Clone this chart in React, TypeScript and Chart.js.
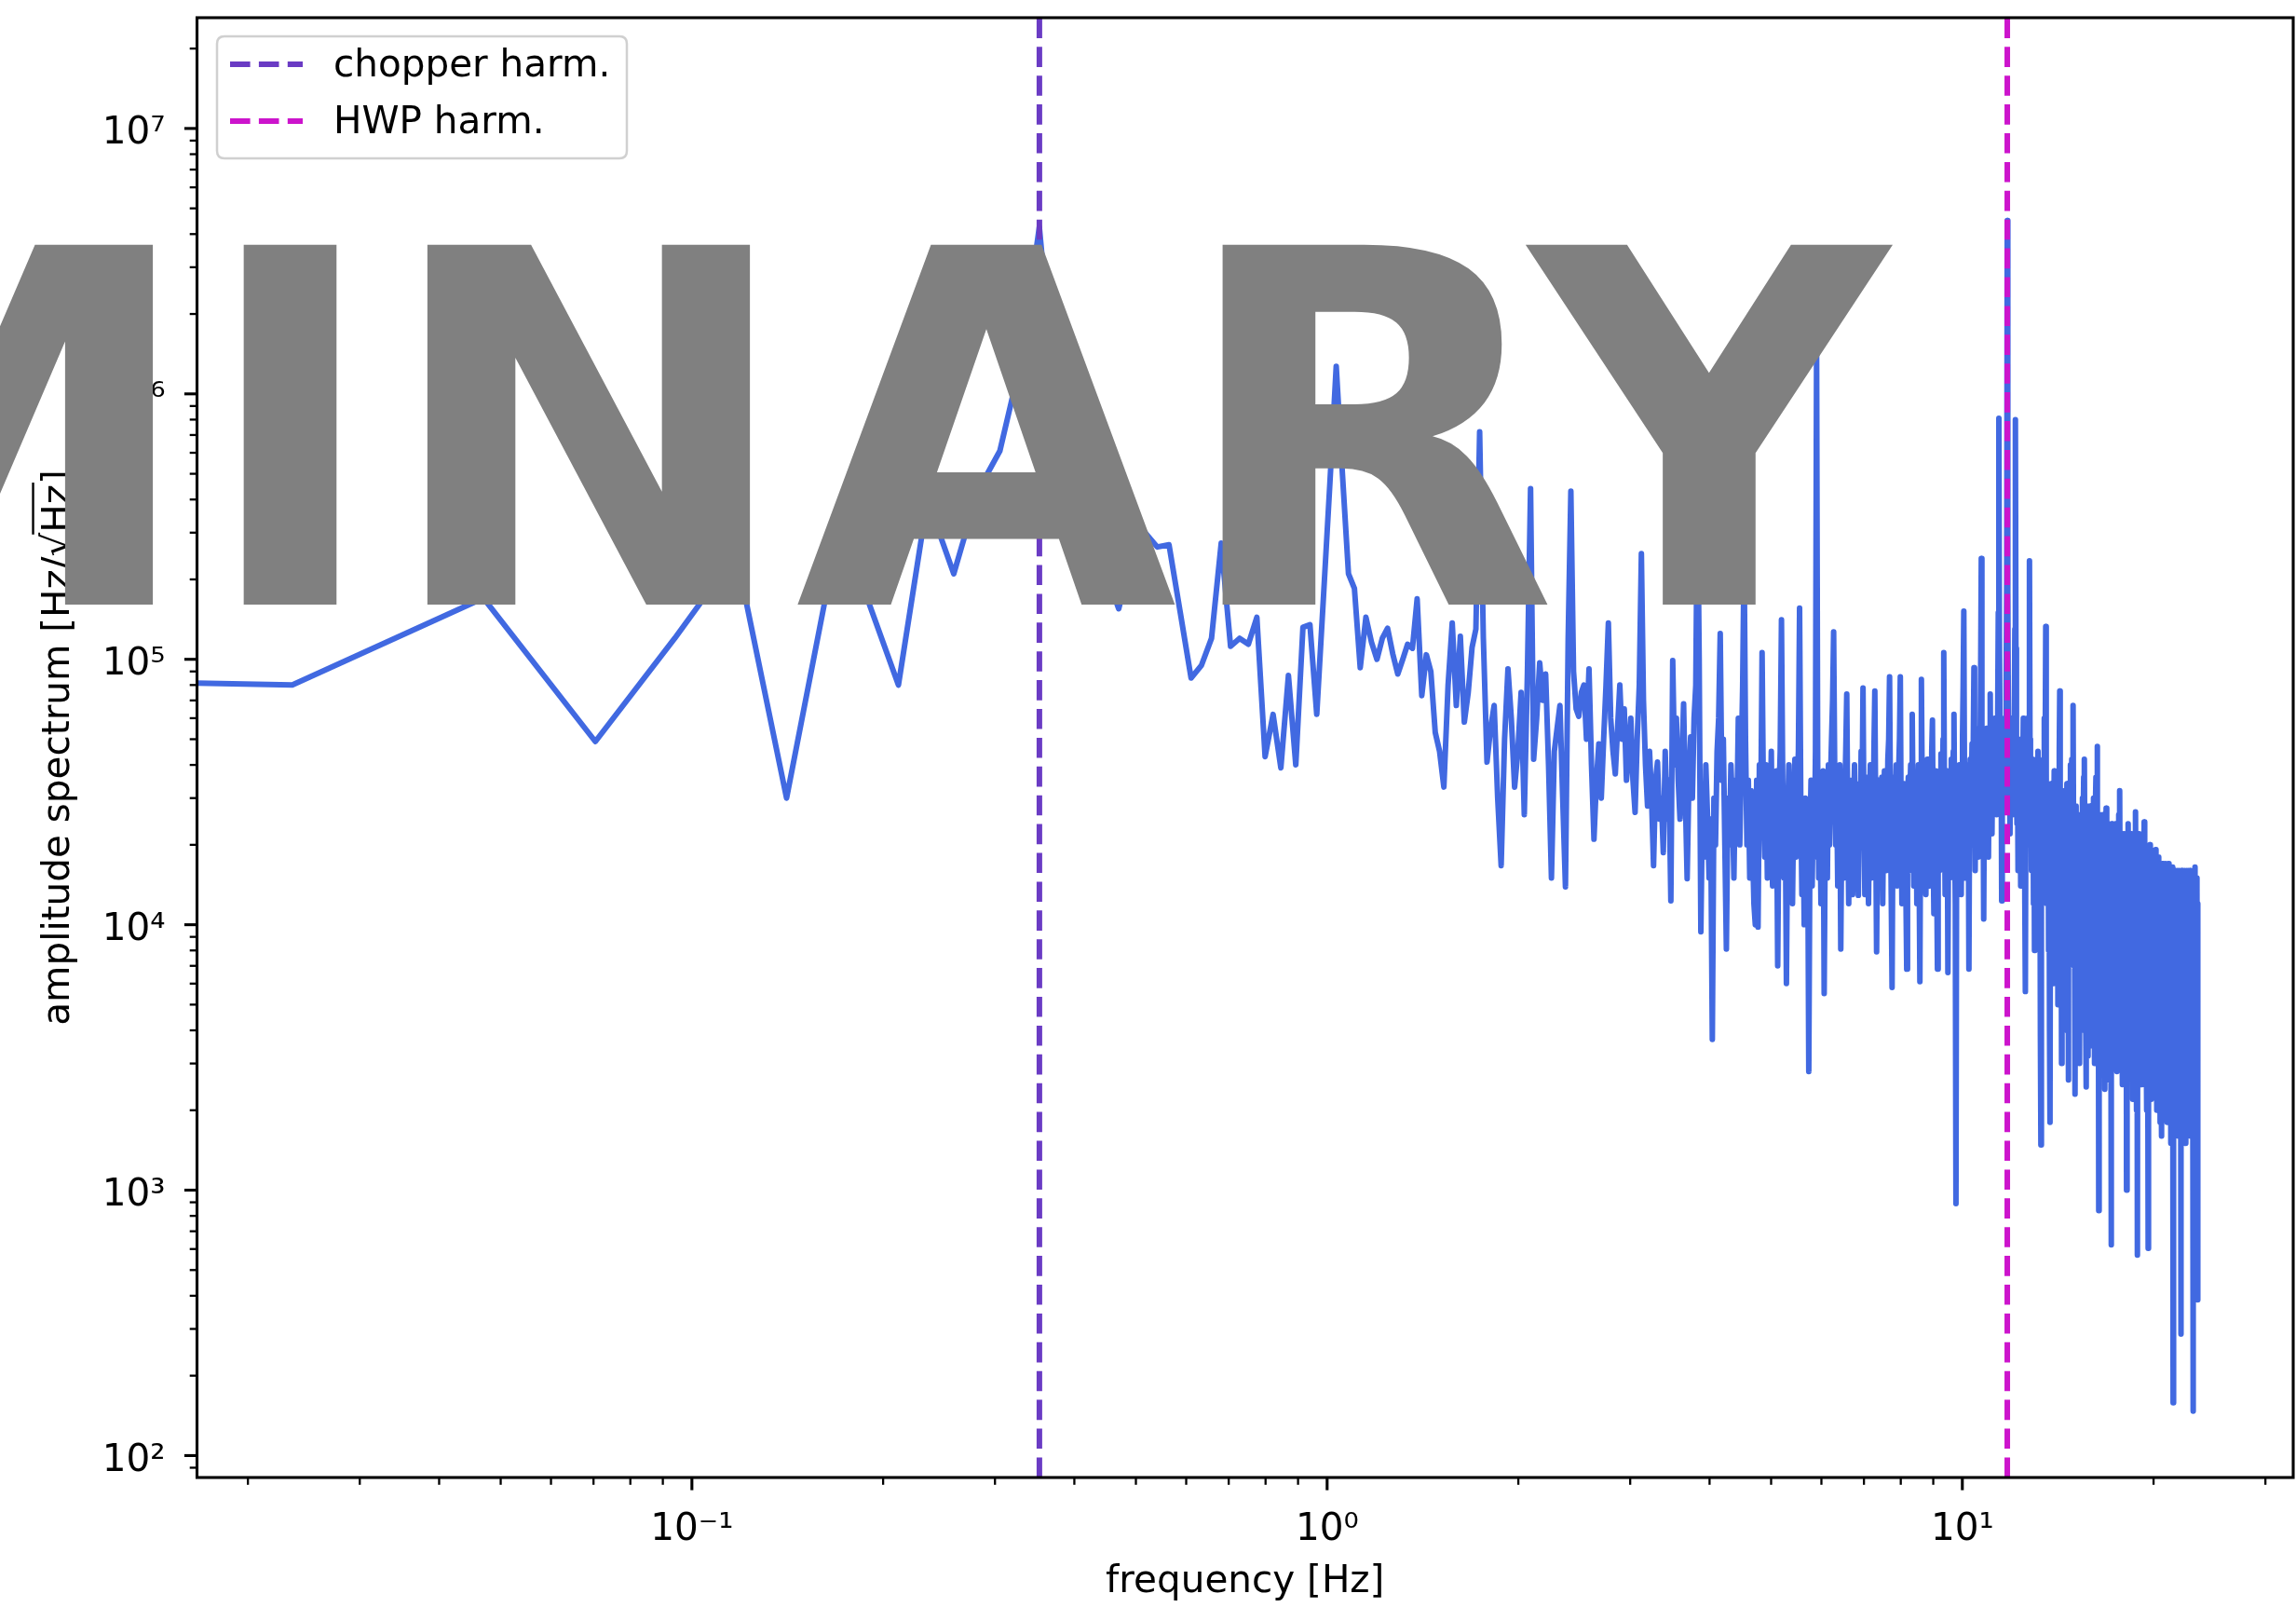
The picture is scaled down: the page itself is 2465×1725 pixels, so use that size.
import React, { useEffect, useRef } from "react";
import { Chart, registerables } from "chart.js";

Chart.register(...registerables);

// ---------------- data ----------------
// FFT bin spacing; bin k sits at k * FREQ_STEP_HZ (k = 0 is the DC bin)
const FREQ_STEP_HZ = 0.02349;

// amplitude spectrum [Hz/sqrt(Hz)] per bin
const AMPLITUDE: number[] = [
  1.47e7,
  8.0e4, 1.7e5, 4.9e4, 1.2e5, 2.5e5, 3.0e4, 2.0e5, 1.75e5, 8.0e4, 4.0e5, 2.1e5, 4.3e5, 6.1e5, 1.3e6, 4.25e6, 8.0e5, 4.0e5, 3.0e5, 2.2e5, 1.55e5,
  2.5e5, 3.0e5, 2.65e5, 2.7e5, 1.5e5, 8.5e4, 9.5e4, 1.2e5, 2.74e5, 1.12e5, 1.2e5, 1.14e5, 1.44e5, 4.3e4, 6.2e4, 3.9e4, 8.7e4, 4.0e4, 1.32e5, 1.35e5,
  6.2e4, 1.7e5, 4.6e5, 1.27e6, 5.0e5, 2.1e5, 1.85e5, 9.3e4, 1.44e5, 1.16e5, 1.0e5, 1.2e5, 1.31e5, 1.05e5, 8.8e4, 1.0e5, 1.14e5, 1.1e5, 1.69e5, 7.3e4,
  1.04e5, 9.0e4, 5.3e4, 4.5e4, 3.3e4, 8.0e4, 1.37e5, 6.7e4, 1.22e5, 5.8e4, 7.5e4, 1.11e5, 1.3e5, 7.2e5, 1.2e5, 4.1e4, 5.5e4, 6.7e4, 3.0e4, 1.67e4,
  5.0e4, 9.2e4, 6.0e4, 3.3e4, 4.5e4, 7.5e4, 2.6e4, 9.0e4, 4.4e5, 4.2e4, 6.0e4, 9.7e4, 7.0e4, 8.8e4, 4.0e4, 1.5e4, 4.5e4, 5.5e4, 6.7e4, 3.0e4,
  1.39e4, 1.2e5, 4.3e5, 9.0e4, 6.5e4, 6.1e4, 7.5e4, 8.0e4, 5.0e4, 9.2e4, 4.0e4, 2.1e4, 3.5e4, 4.8e4, 3.0e4, 5.0e4, 8.0e4, 1.37e5, 6.0e4, 4.5e4,
  3.7e4, 5.5e4, 8.0e4, 5.0e4, 6.5e4, 3.5e4, 4.4e4, 6.0e4, 3.5e4, 2.65e4, 5.0e4, 8.0e4, 2.5e5, 7.0e4, 4.0e4, 2.8e4, 4.5e4, 3.0e4, 1.67e4, 3.5e4,
  4.1e4, 2.5e4, 3.0e4, 1.87e4, 4.5e4, 2.5e4, 3.5e4, 1.23e4, 9.9e4, 4.0e4, 6.0e4, 3.5e4, 2.5e4, 4.0e4, 6.8e4, 3.0e4, 1.49e4, 3.5e4, 5.1e4, 3.0e4,
  6.0e4, 8.0e4, 4.6e5, 1.0e5, 9.4e3, 3.0e4, 1.8e4, 4.0e4, 2.6e4, 1.5e4, 2.5e4, 3.7e3, 3.0e4, 2.0e4, 4.5e4, 6.0e4, 1.25e5, 3.5e4, 5.0e4, 2.0e4,
  8.1e3, 3.0e4, 2.0e4, 4.0e4, 2.8e4, 1.5e4, 3.5e4, 2.5e4, 6.0e4, 2.0e4, 4.0e4, 8.0e4, 2.5e5, 5.0e4, 2.0e4, 3.5e4, 1.5e4, 3.2e4, 2.0e4, 1.2e4,
  1.0e4, 3.5e4, 9.8e3, 4.0e4, 2.5e4, 1.06e5, 3.0e4, 1.8e4, 4.0e4, 1.5e4, 3.5e4, 2.2e4, 4.5e4, 1.4e4, 3.0e4, 2.0e4, 3.8e4, 7.0e3, 3.0e4, 4.5e4,
  1.41e5, 3.5e4, 1.5e4, 3.0e4, 6.0e3, 2.5e4, 4.0e4, 1.6e4, 3.2e4, 1.2e4, 2.8e4, 4.2e4, 1.8e4, 3.5e4, 4.5e4, 1.56e5, 3.0e4, 1.3e4, 2.5e4, 1.0e4,
  3.0e4, 1.5e4, 2.5e4, 2.8e3, 2.0e4, 3.5e4, 1.4e4, 2.8e4, 1.8e4, 4.5e4, 1.5e6, 4.0e4, 1.5e4, 3.0e4, 1.2e4, 2.5e4, 3.8e4, 5.5e3, 2.2e4, 3.5e4,
  1.5e4, 4.0e4, 2.0e4, 3.5e4, 5.0e4, 7.0e4, 1.27e5, 4.0e4, 2.0e4, 3.2e4, 1.4e4, 2.8e4, 4.0e4, 8.1e3, 2.5e4, 3.6e4, 1.5e4, 3.0e4, 4.5e4, 7.4e4,
  2.5e4, 1.2e4, 3.0e4, 1.8e4, 3.5e4, 1.3e4, 2.6e4, 4.0e4, 1.6e4, 3.0e4, 2.0e4, 1.29e4, 3.4e4, 2.2e4, 4.5e4, 3.0e4, 7.8e4, 2.5e4, 1.3e4, 3.0e4,
  1.8e4, 3.6e4, 1.2e4, 2.8e4, 4.0e4, 1.5e4, 3.0e4, 2.0e4, 4.5e4, 7.6e4, 2.5e4, 7.9e3, 2.4e4, 3.5e4, 1.4e4, 2.8e4, 1.9e4, 3.6e4, 1.2e4, 2.6e4,
  3.8e4, 1.6e4, 3.0e4, 2.2e4, 4.2e4, 5.0e4, 8.6e4, 3.0e4, 1.3e4, 5.8e3, 2.5e4, 3.6e4, 1.5e4, 2.9e4, 4.0e4, 1.4e4, 2.6e4, 3.8e4, 5.0e4, 8.6e4,
  2.4e4, 1.2e4, 3.0e4, 1.8e4, 3.4e4, 2.2e4, 1.3e4, 6.8e3, 2.6e4, 3.6e4, 1.6e4, 3.0e4, 4.0e4, 2.0e4, 6.2e4, 2.8e4, 1.4e4, 3.2e4, 2.0e4, 3.6e4,
  1.2e4, 2.8e4, 4.0e4, 1.6e4, 6.1e3, 3.0e4, 8.4e4, 3.5e4, 1.5e4, 3.2e4, 2.2e4, 3.8e4, 1.3e4, 2.6e4, 4.2e4, 1.8e4, 3.0e4, 1.4e4, 3.6e4, 2.4e4,
  4.5e4, 5.9e4, 2.0e4, 1.1e4, 3.0e4, 2.2e4, 3.8e4, 1.5e4, 6.8e3, 2.8e4, 3.6e4, 1.6e4, 3.2e4, 4.4e4, 1.8e4, 3.0e4, 5.0e4, 1.06e5, 3.0e4, 1.3e4,
  3.2e4, 2.0e4, 3.8e4, 6.6e3, 2.6e4, 3.6e4, 1.5e4, 3.0e4, 4.2e4, 2.0e4, 3.4e4, 4.5e4, 6.2e4, 2.4e4, 1.2e4, 890, 2.2e4, 3.6e4, 1.6e4, 3.0e4,
  4.0e4, 1.8e4, 3.2e4, 1.3e4, 3.6e4, 5.0e4, 8.0e4, 1.52e5, 3.5e4, 1.5e4, 3.0e4, 2.2e4, 4.0e4, 1.6e4, 3.2e4, 6.8e3, 2.8e4, 4.2e4, 2.0e4, 3.4e4,
  4.8e4, 2.4e4, 5.0e4, 9.3e4, 3.5e4, 1.6e4, 3.6e4, 2.5e4, 4.5e4, 1.8e4, 3.8e4, 5.5e4, 2.6e4, 4.4e4, 9.0e4, 2.4e5, 4.5e4, 2.0e4, 3.6e4, 1.05e4,
  3.0e4, 4.6e4, 2.2e4, 3.8e4, 5.5e4, 2.6e4, 4.2e4, 1.8e4, 3.6e4, 5.0e4, 7.4e4, 3.0e4, 4.8e4, 2.2e4, 4.0e4, 5.8e4, 2.8e4, 4.5e4, 6.0e4, 3.2e4,
  5.0e4, 2.6e4, 4.4e4, 6.5e4, 1.5e5, 8.1e5, 1.2e5, 5.0e4, 3.0e4, 4.5e4, 1.23e4, 3.5e4, 5.2e4, 2.8e4, 4.6e4, 6.0e4, 3.4e4, 5.5e4, 8.0e4, 2.0e5,
  4.5e6, 1.8e5, 6.0e4, 3.0e4, 5.0e4, 2.2e4, 4.5e4, 6.0e4, 3.0e4, 5.2e4, 2.6e4, 4.8e4, 3.4e4, 6.0e4, 1.3e5, 8.0e5, 1.1e5, 4.2e4, 2.4e4, 4.0e4,
  1.6e4, 3.6e4, 5.0e4, 2.2e4, 4.2e4, 1.4e4, 3.4e4, 5.0e4, 2.0e4, 3.8e4, 6.0e4, 2.4e4, 4.0e4, 1.2e4, 5.6e3, 3.0e4, 4.8e4, 2.2e4, 6.0e4, 4.0e4,
  2.0e4, 6.0e4, 2.35e5, 5.0e4, 2.6e4, 4.0e4, 1.6e4, 3.4e4, 2.2e4, 4.2e4, 1.2e4, 3.0e4, 8.0e3, 2.6e4, 4.0e4, 1.8e4, 3.2e4, 1.0e4, 2.8e4, 4.5e4,
  1.6e4, 3.0e4, 1.2e4, 2.6e4, 3.8e3, 1.48e3, 2.2e4, 3.5e4, 1.4e4, 2.8e4, 4.2e4, 2.0e4, 6.0e4, 3.0e4, 5.0e4, 1.33e5, 3.8e4, 1.2e4, 2.6e4, 1.8e4,
  3.2e4, 8.0e3, 2.4e4, 4.0e3, 1.8e3, 2.2e4, 3.4e4, 1.0e4, 2.6e4, 1.5e4, 3.2e4, 6.0e3, 2.4e4, 3.8e4, 1.2e4, 2.8e4, 7.0e3, 2.2e4, 3.4e4, 1.4e4,
  2.6e4, 5.0e3, 2.0e4, 3.2e4, 4.5e4, 7.6e4, 2.4e4, 8.0e3, 2.2e4, 3.0e3, 1.8e4, 2.8e4, 9.0e3, 2.4e4, 4.0e3, 2.0e4, 3.2e4, 1.0e4, 2.6e4, 6.0e3,
  2.2e4, 3.4e4, 1.2e4, 2.4e4, 2.6e3, 2.0e4, 3.0e4, 8.0e3, 2.6e4, 4.0e4, 1.4e4, 2.8e4, 4.2e4, 2.0e4, 3.6e4, 6.7e4, 2.4e4, 7.0e3, 2.0e4, 3.0e3,
  2.3e3, 1.8e4, 2.8e4, 9.0e3, 2.2e4, 5.0e3, 1.8e4, 2.6e4, 8.0e3, 2.2e4, 3.0e3, 1.6e4, 2.6e4, 1.0e4, 2.4e4, 4.0e3, 2.0e4, 3.0e4, 1.2e4, 2.6e4,
  3.6e4, 2.2e4, 4.2e4, 1.4e4, 2.6e4, 4.0e3, 2.45e3, 2.0e4, 2.8e4, 8.0e3, 2.2e4, 3.2e3, 1.8e4, 2.6e4, 6.0e3, 2.0e4, 2.8e4, 9.0e3, 2.2e4, 3.5e3,
  1.8e4, 2.6e4, 7.0e3, 2.2e4, 3.0e4, 1.2e4, 2.4e4, 3.0e3, 1.8e4, 3.0e4, 3.6e4, 1.6e4, 2.8e4, 4.7e4, 2.0e4, 6.0e3, 1.6e4, 838, 2.0e4, 2.6e4,
  8.0e3, 2.0e4, 3.0e3, 1.6e4, 2.4e4, 6.0e3, 2.0e4, 2.6e4, 4.0e3, 1.8e4, 2.4e4, 7.0e3, 2.0e4, 2.4e3, 1.6e4, 2.2e4, 2.75e4, 1.2e4, 2.0e4, 4.0e3,
  1.8e4, 2.4e4, 6.0e3, 1.8e4, 2.6e3, 1.5e4, 2.2e4, 5.0e3, 1.6e4, 622, 1.8e4, 2.4e4, 6.0e3, 2.0e4, 3.0e3, 1.6e4, 2.2e4, 8.0e3, 1.8e4, 3.5e3,
  1.6e4, 2.4e4, 7.0e3, 1.8e4, 2.8e3, 1.5e4, 2.2e4, 6.0e3, 2.0e4, 2.6e4, 1.2e4, 2.4e4, 3.2e4, 1.4e4, 2.0e4, 4.0e3, 1.6e4, 2.2e4, 6.0e3, 1.8e4,
  2.5e3, 1.4e4, 2.0e4, 5.0e3, 1.6e4, 2.2e4, 7.0e3, 1.8e4, 3.0e3, 1.5e4, 2.0e4, 1.0e3, 1.6e4, 2.2e4, 5.0e3, 1.8e4, 2.4e4, 8.0e3, 1.6e4, 3.0e3,
  1.4e4, 2.0e4, 6.0e3, 1.6e4, 2.2e4, 4.0e3, 1.5e4, 2.0e4, 2.2e3, 1.4e4, 2.0e4, 7.0e3, 1.6e4, 2.2e4, 3.5e3, 1.5e4, 2.0e4, 2.66e4, 1.0e4, 1.8e4,
  2.0e3, 1.4e4, 569, 1.5e4, 2.0e4, 5.0e3, 1.6e4, 2.2e4, 3.0e3, 1.4e4, 1.9e4, 6.0e3, 1.5e4, 2.0e4, 2.5e3, 1.4e4, 1.8e4, 5.0e3, 1.5e4, 2.0e4,
  8.0e3, 1.6e4, 2.44e4, 1.0e4, 1.6e4, 2.5e3, 1.4e4, 1.9e4, 4.0e3, 1.5e4, 2.0e3, 1.3e4, 1.8e4, 5.0e3, 604, 1.4e4, 1.8e4, 3.0e3, 1.5e4, 2.0e4,
  6.0e3, 1.4e4, 1.8e4, 2.2e3, 1.3e4, 1.8e4, 5.0e3, 1.5e4, 1.9e4, 3.0e3, 1.4e4, 1.8e4, 6.0e3, 1.5e4, 2.5e3, 1.4e4, 1.8e4, 1.92e4, 8.0e3, 1.5e4,
  2.0e3, 1.3e4, 1.7e4, 4.0e3, 1.4e4, 1.8e4, 2.4e3, 1.3e4, 1.7e4, 5.0e3, 1.4e4, 1.8e3, 1.3e4, 1.7e4, 4.0e3, 1.4e4, 1.6e3, 1.3e4, 1.7e4, 3.0e3,
  1.4e4, 1.7e4, 2.0e3, 1.3e4, 1.6e4, 5.0e3, 1.4e4, 1.7e4, 2.2e3, 1.3e4, 1.6e4, 4.0e3, 1.4e4, 1.8e3, 1.3e4, 1.6e4, 3.0e3, 1.4e4, 1.7e4, 2.0e3,
  1.3e4, 1.6e4, 4.0e3, 1.4e4, 1.6e4, 1.5e3, 1.3e4, 1.6e4, 3.0e3, 1.4e4, 1.6e4, 2.0e3, 1.65e4, 158, 1.3e4, 1.6e4, 2.5e3, 1.4e4, 1.6e4, 1.8e3,
  1.3e4, 1.6e4, 3.0e3, 1.4e4, 1.5e4, 2.0e3, 1.3e4, 1.6e4, 3.5e3, 1.3e4, 1.5e4, 1.6e3, 1.3e4, 1.6e4, 2.5e3, 1.4e4, 1.5e4, 3.0e3, 1.3e4, 287,
  1.4e4, 1.6e4, 2.0e3, 1.3e4, 1.5e4, 2.6e3, 1.4e4, 1.6e4, 1.8e3, 1.3e4, 1.5e4, 3.0e3, 1.4e4, 1.6e4, 2.0e3, 1.3e4, 1.5e4, 1.5e3, 1.4e4, 1.6e4,
  2.4e3, 1.3e4, 1.5e4, 1.8e3, 1.4e4, 1.6e4, 2.8e3, 1.3e4, 1.5e4, 2.0e3, 1.4e4, 1.6e4, 1.6e3, 1.3e4, 1.5e4, 2.6e3, 1.4e4, 1.5e4, 2.0e3, 1.3e4,
  1.5e4, 1.8e3, 147, 1.4e4, 1.5e4, 2.2e3, 1.3e4, 1.5e4, 1.65e4, 2.0e3, 1.4e4, 1.5e4, 2.5e3, 1.3e4, 1.5e4, 1.8e3, 1.4e4, 386, 1.2e4, 2.5e3,
];

// harmonic markers [Hz]
const CHOPPER_HARM_HZ = [0.3524];
const HWP_HARM_HZ = [11.77];
const SERIES_LABELS = ["chopper harm.", "HWP harm."];

// tick values and labels
const X_MAJOR_TICKS = [0.1, 1, 10];
const X_MAJOR_LABELS = ["10⁻¹", "10⁰", "10¹"];
const X_MINOR_TICKS = [
  0.02, 0.03, 0.04, 0.05, 0.06, 0.07, 0.08, 0.09,
  0.2, 0.3, 0.4, 0.5, 0.6, 0.7, 0.8, 0.9,
  2, 3, 4, 5, 6, 7, 8, 9, 20, 30,
];
const Y_MAJOR_TICKS = [1e2, 1e3, 1e4, 1e5, 1e6, 1e7];
const Y_MAJOR_LABELS = ["10²", "10³", "10⁴", "10⁵", "10⁶", "10⁷"];
const Y_MINOR_TICKS = [
  90, 200, 300, 400, 500, 600, 700, 800, 900,
  2e3, 3e3, 4e3, 5e3, 6e3, 7e3, 8e3, 9e3,
  2e4, 3e4, 4e4, 5e4, 6e4, 7e4, 8e4, 9e4,
  2e5, 3e5, 4e5, 5e5, 6e5, 7e5, 8e5, 9e5,
  2e6, 3e6, 4e6, 5e6, 6e6, 7e6, 8e6, 9e6, 2e7,
];

const X_TITLE = "frequency [Hz]";
const Y_TITLE_PARTS = ["amplitude spectrum [Hz/", "√", "Hz", "]"];
const WATERMARK = "PRELIMINARY";

// ---------------- style / layout ----------------
const W = 2465;
const H = 1725;
const FONT = "'DejaVu Sans', 'Liberation Sans', sans-serif";
const FS = 40.5;
const PLOT_LEFT = 211.5;
const PLOT_TOP = 19;
const PLOT_RIGHT_PAD = 3;
const PLOT_BOTTOM = 1586;
const LINE_W = 6;
const DASH = [21.6, 9.3];
const SPECTRUM_COLOR = "#4169e1";
const CHOPPER_COLOR = "#6a3bc4";
const HWP_COLOR = "#cc14cc";
const WATERMARK_COLOR = "#808080";
const LOG_CLIP = 1e-300; // non-positive values on a log axis are clipped like matplotlib does

export default function App() {
  const ref = useRef<HTMLCanvasElement | null>(null);

  useEffect(() => {
    const canvas = ref.current;
    if (!canvas) return;

    const freq = AMPLITUDE.map((_, k) => k * FREQ_STEP_HZ);
    const posF = freq.filter((f) => f > 0);
    const lx0 = Math.log10(Math.min(...posF));
    const lx1 = Math.log10(Math.max(...posF));
    const ly0 = Math.log10(Math.min(...AMPLITUDE));
    const ly1 = Math.log10(Math.max(...AMPLITUDE));
    const mx = 0.05 * (lx1 - lx0);
    const my = 0.05 * (ly1 - ly0);
    const xMin = Math.pow(10, lx0 - mx);
    const xMax = Math.pow(10, lx1 + mx);
    const yMin = Math.pow(10, ly0 - my);
    const yMax = Math.pow(10, ly1 + my);

    const spectrum = freq.map((f, k) => ({ x: f > 0 ? f : LOG_CLIP, y: AMPLITUDE[k] }));
    const vlines = (fs: number[]) =>
      fs.flatMap((f, i) => {
        const seg = [{ x: f, y: yMin }, { x: f, y: yMax }];
        return i < fs.length - 1 ? [...seg, { x: f, y: NaN }] : seg;
      });

    const font = { family: FONT, size: FS };

    const majorOf = (majors: number[]) => (v: number) => majors.indexOf(v) >= 0;
    const isXMajor = majorOf(X_MAJOR_TICKS);
    const isYMajor = majorOf(Y_MAJOR_TICKS);

    const axesDecor = {
      id: "axesDecor",
      afterDatasetsDraw(chart: any) {
        const { ctx, chartArea: a, scales } = chart;
        ctx.save();
        ctx.strokeStyle = "#000";
        ctx.lineCap = "butt";
        for (const t of scales.x.ticks) {
          const p = scales.x.getPixelForValue(t.value);
          const len = t.major ? 13.6 : 7.8;
          ctx.lineWidth = t.major ? 3.1 : 2.3;
          ctx.beginPath();
          ctx.moveTo(p, a.bottom);
          ctx.lineTo(p, a.bottom + len);
          ctx.stroke();
        }
        for (const t of scales.y.ticks) {
          const p = scales.y.getPixelForValue(t.value);
          const len = t.major ? 13.6 : 7.8;
          ctx.lineWidth = t.major ? 3.1 : 2.3;
          ctx.beginPath();
          ctx.moveTo(a.left, p);
          ctx.lineTo(a.left - len, p);
          ctx.stroke();
        }
        ctx.lineWidth = 3.1;
        ctx.lineJoin = "miter";
        ctx.strokeRect(a.left, a.top, a.right - a.left, a.bottom - a.top);
        ctx.restore();
      },
    };

    const overlay = {
      id: "overlay",
      afterDraw(chart: any) {
        const { ctx, chartArea: a } = chart;

        // legend (upper left, inside axes)
        const items = chart.data.datasets.filter((d: any) => SERIES_LABELS.indexOf(d.label) >= 0);
        const lx = a.left + 21.5;
        const ly = a.top + 20;
        const rowH = 61;
        const boxW = 440;
        const boxH = 131;
        ctx.save();
        ctx.beginPath();
        const r = 8;
        ctx.moveTo(lx + r, ly);
        ctx.lineTo(lx + boxW - r, ly);
        ctx.quadraticCurveTo(lx + boxW, ly, lx + boxW, ly + r);
        ctx.lineTo(lx + boxW, ly + boxH - r);
        ctx.quadraticCurveTo(lx + boxW, ly + boxH, lx + boxW - r, ly + boxH);
        ctx.lineTo(lx + r, ly + boxH);
        ctx.quadraticCurveTo(lx, ly + boxH, lx, ly + boxH - r);
        ctx.lineTo(lx, ly + r);
        ctx.quadraticCurveTo(lx, ly, lx + r, ly);
        ctx.closePath();
        ctx.fillStyle = "rgba(255,255,255,0.8)";
        ctx.fill();
        ctx.strokeStyle = "#d0d0d0";
        ctx.lineWidth = 2.5;
        ctx.stroke();
        ctx.font = `${FS}px ${FONT}`;
        ctx.textBaseline = "alphabetic";
        ctx.textAlign = "left";
        items.forEach((d: any, i: number) => {
          const cy = ly + 30 + i * rowH;
          ctx.strokeStyle = d.borderColor;
          ctx.lineWidth = LINE_W;
          ctx.setLineDash(DASH);
          ctx.beginPath();
          ctx.moveTo(lx + 14, cy);
          ctx.lineTo(lx + 14 + 78, cy);
          ctx.stroke();
          ctx.setLineDash([]);
          ctx.fillStyle = "#000";
          ctx.fillText(d.label, lx + 125, cy + 13);
        });
        ctx.restore();

        // y axis title with a square root over "Hz"
        ctx.save();
        ctx.font = `${FS}px ${FONT}`;
        ctx.fillStyle = "#000";
        ctx.strokeStyle = "#000";
        ctx.textBaseline = "alphabetic";
        ctx.textAlign = "left";
        ctx.translate(74, (a.top + a.bottom) / 2);
        ctx.rotate(-Math.PI / 2);
        const widths = Y_TITLE_PARTS.map((p) => ctx.measureText(p).width);
        const total = widths.reduce((s, w) => s + w, 0);
        let x = -total / 2;
        let rootEnd = 0;
        let radEnd = 0;
        Y_TITLE_PARTS.forEach((p, i) => {
          ctx.fillText(p, x, 0);
          if (i === 1) rootEnd = x + widths[i];
          x += widths[i];
          if (i === 2) radEnd = x;
        });
        ctx.lineWidth = 2.4;
        ctx.beginPath();
        ctx.moveTo(rootEnd - 2, -FS * 0.95);
        ctx.lineTo(radEnd + 2, -FS * 0.95);
        ctx.stroke();
        ctx.restore();

        // watermark on top of everything
        ctx.save();
        ctx.font = `bold 530px ${FONT}`;
        ctx.fillStyle = WATERMARK_COLOR;
        ctx.textBaseline = "alphabetic";
        ctx.textAlign = "left";
        const pre = ctx.measureText(WATERMARK.slice(0, 6)).width;
        ctx.fillText(WATERMARK, 213 - pre, 649);
        ctx.restore();
      },
    };

    const chart = new Chart(canvas, {
      type: "line",
      data: {
        datasets: [
          {
            label: "spectrum",
            data: spectrum,
            borderColor: SPECTRUM_COLOR,
            borderWidth: LINE_W,
            borderJoinStyle: "round",
            borderCapStyle: "butt",
            pointRadius: 0,
            tension: 0,
            fill: false,
            order: 3,
          },
          {
            label: SERIES_LABELS[0],
            data: vlines(CHOPPER_HARM_HZ),
            borderColor: CHOPPER_COLOR,
            borderWidth: LINE_W,
            borderDash: DASH,
            borderCapStyle: "butt",
            pointRadius: 0,
            fill: false,
            order: 2,
          },
          {
            label: SERIES_LABELS[1],
            data: vlines(HWP_HARM_HZ),
            borderColor: HWP_COLOR,
            borderWidth: LINE_W,
            borderDash: DASH,
            borderCapStyle: "butt",
            pointRadius: 0,
            fill: false,
            order: 1,
          },
        ] as any,
      },
      options: {
        responsive: false,
        animation: false,
        devicePixelRatio: 1,
        parsing: false,
        events: [],
        layout: { padding: { top: PLOT_TOP, right: PLOT_RIGHT_PAD, left: 0, bottom: 0 } },
        plugins: { legend: { display: false }, tooltip: { enabled: false }, title: { display: false } },
        scales: {
          x: {
            type: "logarithmic",
            position: "bottom",
            min: xMin,
            max: xMax,
            grid: { display: false, drawTicks: true, tickLength: 14 },
            border: { display: false },
            afterBuildTicks: (scale: any) => {
              scale.ticks = [...X_MINOR_TICKS, ...X_MAJOR_TICKS]
                .sort((p, q) => p - q)
                .map((v) => ({ value: v, major: isXMajor(v) }));
            },
            afterFit: (scale: any) => {
              scale.height = H - PLOT_BOTTOM;
              scale.paddingLeft = 0;
              scale.paddingRight = 0;
              scale.paddingTop = 0;
              scale.paddingBottom = 0;
            },
            ticks: {
              autoSkip: false,
              maxRotation: 0,
              minRotation: 0,
              padding: 18.5,
              color: "#000",
              font,
              callback: (v: any) => {
                const i = X_MAJOR_TICKS.indexOf(Number(v));
                return i >= 0 ? X_MAJOR_LABELS[i] : "";
              },
            },
            title: {
              display: true,
              text: X_TITLE,
              color: "#000",
              font,
              padding: { top: 0, bottom: 2.5 },
            },
          },
          y: {
            type: "logarithmic",
            position: "left",
            min: yMin,
            max: yMax,
            grid: { display: false, drawTicks: true, tickLength: 14 },
            border: { display: false },
            afterBuildTicks: (scale: any) => {
              scale.ticks = [...Y_MINOR_TICKS, ...Y_MAJOR_TICKS]
                .sort((p, q) => p - q)
                .map((v) => ({ value: v, major: isYMajor(v) }));
            },
            afterFit: (scale: any) => {
              scale.width = PLOT_LEFT;
              scale.paddingLeft = 0;
              scale.paddingRight = 0;
              scale.paddingTop = 0;
              scale.paddingBottom = 0;
            },
            ticks: {
              autoSkip: false,
              padding: 20,
              labelOffset: 6,
              color: "#000",
              font,
              callback: (v: any) => {
                const i = Y_MAJOR_TICKS.indexOf(Number(v));
                return i >= 0 ? Y_MAJOR_LABELS[i] : "";
              },
            },
            title: { display: false },
          },
        },
      } as any,
      plugins: [axesDecor, overlay],
    });

    return () => chart.destroy();
  }, []);

  return (
    <div style={{ position: "fixed", left: 0, top: 0, width: W, height: H, background: "#fff" }}>
      <canvas ref={ref} width={W} height={H} style={{ display: "block", width: W, height: H }} />
    </div>
  );
}
